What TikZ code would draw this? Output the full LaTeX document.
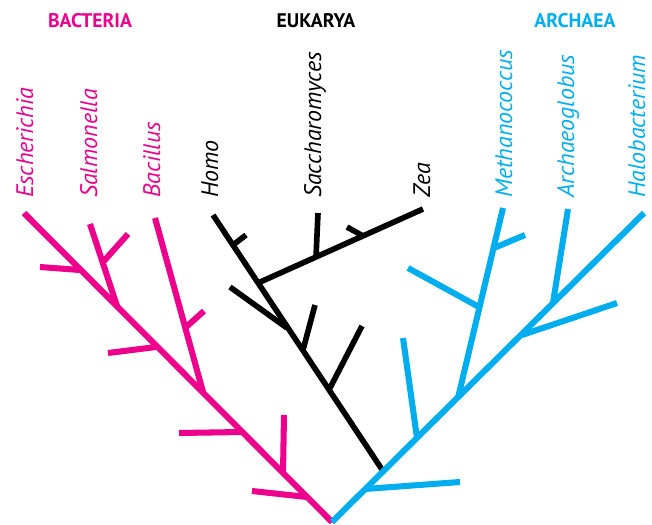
\documentclass[tikz,border=0pt]{standalone}
\usepackage{fontspec}
\setmainfont{PT Sans}
\usepackage{tikz}
\usetikzlibrary{calc}
\definecolor{bactpink}{HTML}{EC008C}
\definecolor{archblue}{HTML}{00AEEF}
\tikzstyle{bact} = [line width=4.3pt, draw=bactpink]
\tikzstyle{euk} = [line width=4.0pt, draw=black]
\tikzstyle{arch} = [line width=4.3pt, draw=archblue]
\tikzstyle{genusname} = [rotate=90, anchor=base west, inner sep=0pt, font=\itshape\fontsize{17}{19}\selectfont]
\tikzstyle{domaintitle} = [font=\bfseries\fontsize{14}{16}\selectfont]

\begin{document}
\begin{tikzpicture}[x=0.025cm, y=-0.025cm]
            \useasboundingbox (0,0) rectangle (652,525);
            % domain titles
            \node[domaintitle, text=bactpink] (bacteria) at (90,21) {BACTERIA};
            \node[domaintitle] (eukarya) at (316,21) {EUKARYA};
            \node[domaintitle, text=archblue] (archaea) at (575,21) {ARCHAEA};
            % genus names
            \node[genusname, text=bactpink] (esch) at (33,198) {Escherichia};
            \node[genusname, text=bactpink] (salm) at (97,198) {Salmonella};
            \node[genusname, text=bactpink] (baci) at (160,198) {Bacillus};
            \node[genusname] (homo) at (218,198) {Homo};
            \node[genusname] (sacc) at (321,198) {Saccharomyces};
            \node[genusname] (zea) at (430,198) {Zea};
            \node[genusname, text=archblue] (meth) at (512,198) {Methanococcus};
            \node[genusname, text=archblue] (arch) at (574,198) {Archaeoglobus};
            \node[genusname, text=archblue] (halo) at (645,198) {Halobacterium};
            % root of the tree
            \coordinate (root) at (332,522);
            % bacteria
            \coordinate (bEsch) at (24,213);
            \coordinate (bSalm) at (117,306);
            \coordinate (bBaci) at (203,392);
            \draw[bact] (root) -- (bEsch);
            \draw[bact] (80,270) -- (40,267);
            \draw[bact] (bSalm) -- (90,224);
            \draw[bact] (103,262) -- (128,234);
            \draw[bact] (156,347) -- (108,353);
            \draw[bact] (bBaci) -- (155,218);
            \draw[bact] (185,328) -- (204,311);
            \draw[bact] (242,432) -- (179,433);
            \draw[bact] (283,473) -- (284,415);
            \draw[bact] (307,497) -- (252,491);
            % eukarya
            \coordinate (kBase) at (383,471);
            \coordinate (kHomo) at (213,215);
            \coordinate (kSacc) at (258,283);
            \draw[euk] (kBase) -- (kHomo);
            \draw[euk] (233,245) -- (246,235);
            \draw[euk] (330,388) -- (362,326);
            \draw[euk] (303,350) -- (315,305);
            \draw[euk] (287,328) -- (230,287);
            \draw[euk] (kSacc) -- (423,209);
            \draw[euk] (316,257) -- (318,213);
            \draw[euk] (363,236) -- (347,227);
            % archaea
            \coordinate (aHalo) at (644,213);
            \coordinate (aMeth) at (458,398);
            \draw[arch] (root) -- (aHalo);
            \draw[arch] (365,489) -- (460,482);
            \draw[arch] (417,438) -- (403,338);
            \draw[arch] (aMeth) -- (503,208);
            \draw[arch] (479,307) -- (408,268);
            \draw[arch] (494,248) -- (525,235);
            \draw[arch] (522,335) -- (617,303);
            \draw[arch] (553,303) -- (568,209);
        \end{tikzpicture}
\end{document}
